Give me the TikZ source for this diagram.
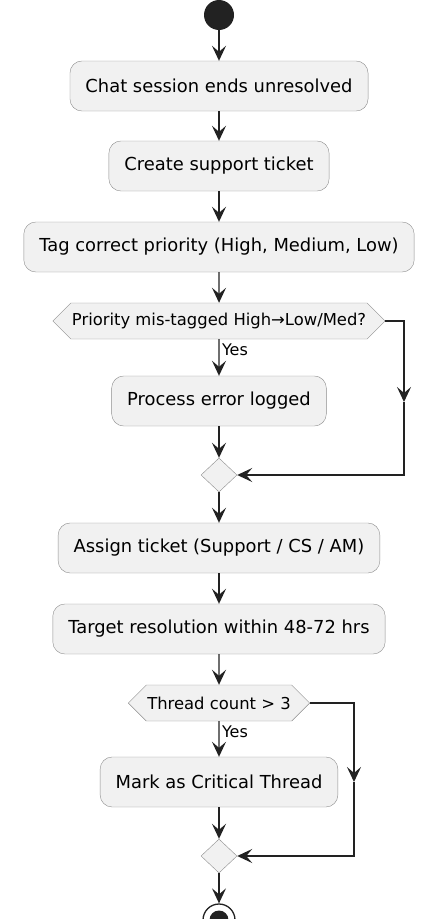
\documentclass[tikz,border=0pt]{standalone}
\usepackage{fontspec}
\setmainfont{DejaVu Sans}
\usetikzlibrary{shapes.geometric,shapes.symbols,arrows.meta}
\definecolor{actfill}{HTML}{F1F1F1}
\definecolor{boxgray}{HTML}{8C8C8C}
\definecolor{linedark}{HTML}{222222}
\tikzset{
  act/.style={
    draw=boxgray,
    fill=actfill,
    rounded corners=12bp,
    inner xsep=15.5bp,
    minimum height=50bp,
    font=\fontsize{17.9bp}{20bp}\selectfont
  },
  dec/.style={
    shape=signal,
    signal to=west and east,
    signal pointer angle=90,
    draw=boxgray,
    fill=actfill,
    inner xsep=1bp,
    minimum height=36bp,
    font=\fontsize{16.4bp}{18bp}\selectfont
  },
  merge/.style={
    diamond,
    draw=boxgray,
    fill=actfill,
    minimum width=36bp,
    minimum height=34bp,
    inner sep=0pt
  },
  flow/.style={
    draw=linedark,
    line width=1.4bp,
    -{Stealth[length=15bp,width=14bp,inset=6bp]}
  },
  guard/.style={
    anchor=west,
    font=\fontsize{16bp}{18bp}\selectfont
  }
}
\begin{document}
\begin{tikzpicture}[x=1bp,y=-1bp]
  \useasboundingbox (0,0) rectangle (426,919);
  \node[circle, fill=linedark, minimum size=30bp, inner sep=0pt] (start) at (219,15) {};
  \node[act] (chat) at (219,86) {Chat session ends unresolved};
  \node[act] (create) at (219,166) {Create support ticket};
  \node[act] (tag) at (219,247) {Tag correct priority (High, Medium, Low)};
  \node[dec] (mistag) at (219,321) {Priority mis-tagged High→Low/Med?};
  \node[act] (logged) at (219,401) {Process error logged};
  \node[merge] (join1) at (219,475) {};
  \node[act] (assign) at (219,548) {Assign ticket (Support / CS / AM)};
  \node[act] (target) at (219,629) {Target resolution within 48-72 hrs};
  \node[dec] (threads) at (219,703) {Thread count > 3};
  \node[act] (critical) at (219,782) {Mark as Critical Thread};
  \node[merge] (join2) at (219,856) {};
  \node[circle, draw=linedark, line width=1.3bp, fill=white, minimum size=32bp, inner sep=0pt] (stop) at (219,920) {};
  \fill[linedark] (stop.center) circle (9.5bp);

  \coordinate (mistagmid) at (404,402);
  \coordinate (threadsmid) at (354,782);

  \draw[flow] (start) -- (chat);
  \draw[flow] (chat) -- (create);
  \draw[flow] (create) -- (tag);
  \draw[flow] (tag) -- (mistag);
  \draw[flow] (mistag) -- node[guard, pos=0.3, xshift=-1bp] {Yes} (logged);
  \draw[flow] (logged) -- (join1);
  \draw[flow] (mistag.east) -| (mistagmid);
  \draw[flow] (mistagmid) |- (join1.east);
  \draw[flow] (join1) -- (assign);
  \draw[flow] (assign) -- (target);
  \draw[flow] (target) -- (threads);
  \draw[flow] (threads) -- node[guard, pos=0.3, xshift=-1bp] {Yes} (critical);
  \draw[flow] (critical) -- (join2);
  \draw[flow] (threads.east) -| (threadsmid);
  \draw[flow] (threadsmid) |- (join2.east);
  \draw[flow] (join2) -- (stop);
\end{tikzpicture}
\end{document}
